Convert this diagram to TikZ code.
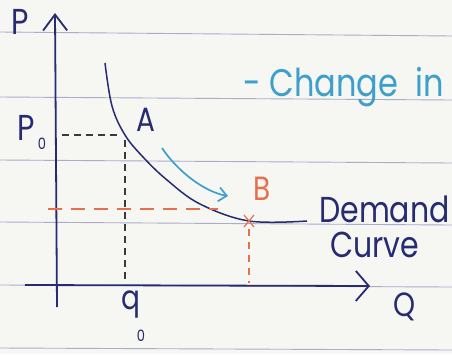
\documentclass[tikz,border=0pt]{standalone}
\usepackage{fontspec}
\setmainfont{Poppins}
\usetikzlibrary{arrows.meta}
\definecolor{paper}{HTML}{F6F6F3}
\definecolor{ruleline}{HTML}{A9ADC8}
\definecolor{ink}{HTML}{262B72}
\definecolor{sky}{HTML}{3C9FCC}
\definecolor{rust}{HTML}{E5704C}
\definecolor{pencil}{HTML}{3A3A3A}
\begin{document}
\begin{tikzpicture}[x=1pt,y=-1pt,
  notebook/.style={ruleline, line width=0.9pt},
  axis/.style={ink, line width=1.8pt},
  curveline/.style={ink, line width=1.5pt},
  guide/.style={pencil, line width=1.1pt, dash pattern=on 7pt off 5pt},
  guideor/.style={rust, line width=1.1pt, dash pattern=on 14pt off 9pt},
  lbl/.style={inner sep=0pt, text=ink, yscale=1.2, transform shape},
  big/.style={font=\fontsize{30}{32}\selectfont},
  mid/.style={font=\fontsize{28}{30}\selectfont},
  small/.style={font=\fontsize{13}{14}\selectfont}]
\fill[paper] (0,0) rectangle (452,354);
\useasboundingbox (0,0) rectangle (452,354);
% ruled lines
\foreach \a/\b in {32/36, 97/100, 160/163, 222/225, 285/287, 348/350}
  \draw[notebook] (0,\a) -- (452,\b);
% axes
\coordinate (ybot) at (57,307);
\coordinate (ytop) at (55,13);
\coordinate (xleft) at (25,285);
\coordinate (xright) at (370,286);
\draw[axis, -{Straight Barb[length=16pt,width=24pt,line width=1.8pt]}] (ybot) -- (ytop);
\draw[axis, -{Straight Barb[length=13pt,width=30pt,line width=1.8pt]}] (xleft) -- (xright);
% demand curve
\coordinate (ptA) at (125,135);
\coordinate (ptB) at (249,221);
\coordinate (cend) at (307,221);
\draw[curveline] plot[smooth, tension=0.6] coordinates {(105,63) (112,106) (ptA) (143,157) (167,180) (200,204) (ptB) (cend)};
% guides for A
\coordinate (p0l) at (62,135);
\coordinate (p0r) at (121,135);
\coordinate (q0t) at (125,140);
\coordinate (q0b) at (125,283);
\draw[guide] (p0l) -- (p0r);
\draw[guide] (q0t) -- (q0b);
% guides for B
\coordinate (pbl) at (48,209);
\coordinate (pbr) at (218,209);
\coordinate (qbt) at (249,229);
\coordinate (qbb) at (249,283);
\draw[guideor] (pbl) -- (pbr);
\draw[rust, line width=1.1pt, dash pattern=on 7pt off 6pt] (qbt) -- (qbb);
% cross at B
\draw[rust, line width=1.2pt] (244,215) -- (254,227) (244,227) -- (254,215);
% movement arrow
\coordinate (arrs) at (162,148);
\coordinate (arre) at (228,196);
\draw[sky, line width=1.7pt, -{Straight Barb[length=8pt,width=14pt,line width=1.7pt]}]
  (arrs) .. controls (178,172) and (205,192) .. (arre);
% labels
\node[lbl, big] (P) at (20,22) {P};
\node[lbl, big] (P0) at (26,128) {P};
\node[lbl, small] (P0s) at (42,144) {0};
\node[lbl, mid] (A) at (146,120) {A};
\node[lbl, mid, text=rust] (B) at (262,189) {B};
\node[lbl, mid] (Q) at (405,307) {Q};
\node[lbl, mid] (q0) at (131,305) {q};
\node[lbl, small] (q0s) at (141,336) {0};
\node[lbl, font=\fontsize{32}{34}\selectfont, text=sky, anchor=base west] (chg) at (243,96) {- Change\ \ in};
\node[lbl, big, anchor=base west] (dem) at (319,222) {Demand};
\node[lbl, big, anchor=base west] (cur) at (330,257) {Curve};
\end{tikzpicture}
\end{document}
